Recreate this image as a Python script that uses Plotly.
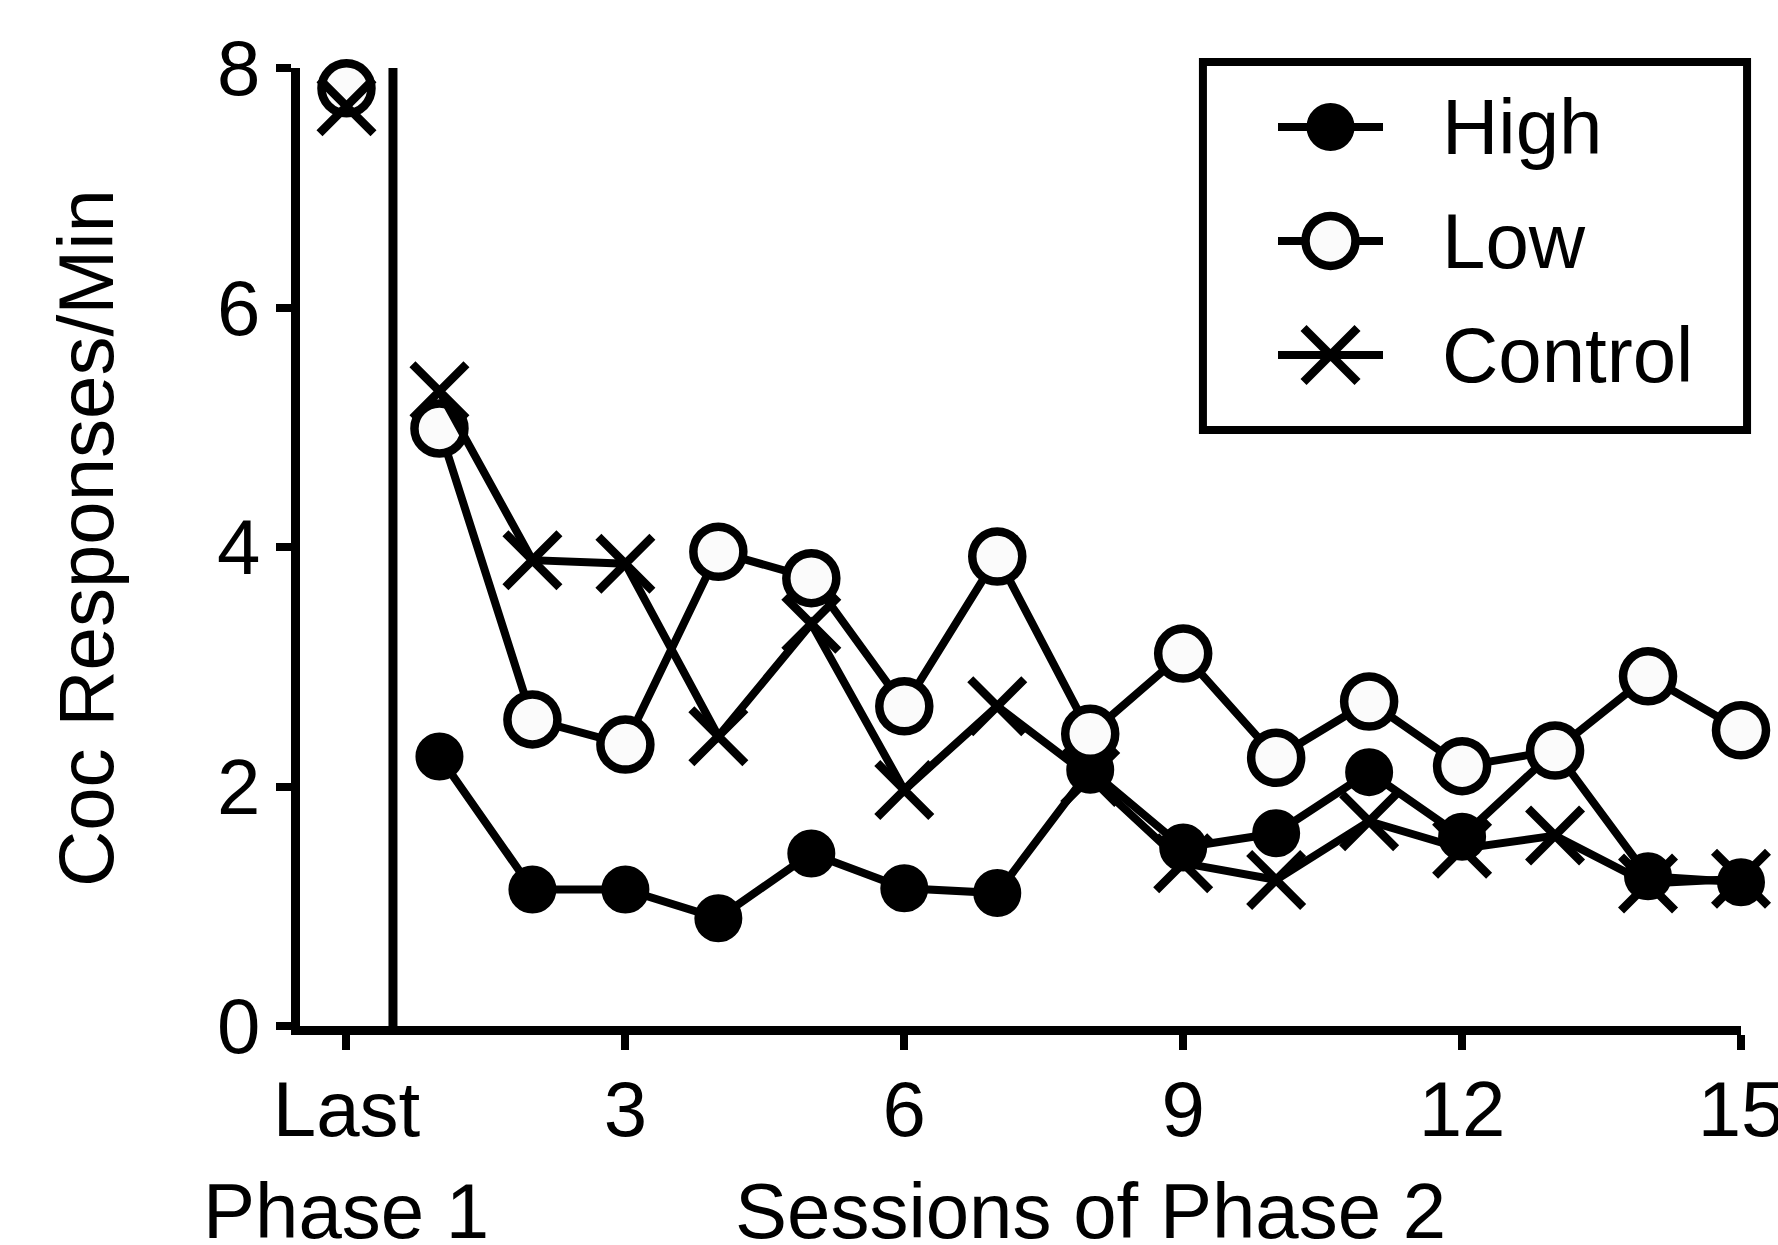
import plotly.graph_objects as go

# ---- data ----
sessions = list(range(1, 16))
high = [2.25, 1.14, 1.14, 0.90, 1.44, 1.15, 1.11, 2.14, 1.49, 1.61, 2.12, 1.58, 2.30, 1.25, 1.20]
low = [4.99, 2.56, 2.35, 3.96, 3.74, 2.67, 3.92, 2.44, 3.11, 2.24, 2.71, 2.17, 2.30, 2.92, 2.47]
control = [5.30, 3.89, 3.86, 2.42, 3.36, 1.97, 2.67, 2.08, 1.36, 1.22, 1.71, 1.48, 1.59, 1.19, 1.23]

last_x = [0]
high_last = [7.80]
low_last = [7.83]
control_last = [7.68]

tick_vals = [0, 3, 6, 9, 12, 15]
tick_text = ["Last", "3", "6", "9", "12", "15"]
y_ticks = [0, 2, 4, 6, 8]
legend_names = ["Control", "Low", "High"]

FONT = "Liberation Sans, Arial, sans-serif"
FS = 78
LW = 8

styles = {
    "High": dict(symbol="circle", size=46, color="black", line=dict(color="black", width=2)),
    "Low": dict(symbol="circle", size=50, color="#fbfbfb", line=dict(color="black", width=8.5)),
    "Control": dict(symbol="x-thin", size=54, color="black", line=dict(color="black", width=8.5)),
}

fig = go.Figure()

for name, ys, ylast in [("High", high, high_last), ("Low", low, low_last), ("Control", control, control_last)]:
    fig.add_trace(go.Scatter(x=sessions, y=ys, mode="lines+markers", name=name,
                             line=dict(color="black", width=LW), marker=styles[name],
                             cliponaxis=False, showlegend=False))
    fig.add_trace(go.Scatter(x=last_x, y=ylast, mode="markers", name=name,
                             marker=styles[name], cliponaxis=False, showlegend=False))

# custom legend drawn on a secondary pair of axes
for name in legend_names:
    fig.add_trace(go.Scatter(x=[0, 2], y=[name, name], mode="lines", xaxis="x2", yaxis="y2",
                             line=dict(color="black", width=LW), showlegend=False, cliponaxis=False))
    fig.add_trace(go.Scatter(x=[1], y=[name], mode="markers", xaxis="x2", yaxis="y2",
                             marker=styles[name], showlegend=False, cliponaxis=False))

annotations = []
for i, name in enumerate(legend_names):
    annotations.append(dict(x=0.791, xref="paper", y=i, yref="y2", text=name, showarrow=False,
                            xanchor="left", yanchor="middle", font=dict(family=FONT, size=FS, color="black")))

annotations += [
    dict(x=0, xref="x", y=-0.193, yref="paper", text="Phase 1", showarrow=False,
         xanchor="center", yanchor="middle", font=dict(family=FONT, size=FS, color="black")),
    dict(x=8, xref="x", y=-0.193, yref="paper", text="Sessions of Phase 2", showarrow=False,
         xanchor="center", yanchor="middle", font=dict(family=FONT, size=FS, color="black")),
    dict(x=-0.148, xref="paper", y=0.509, yref="paper", text="Coc Responses/Min", showarrow=False,
         textangle=-90, xanchor="center", yanchor="middle", font=dict(family=FONT, size=FS, color="black")),
]

shapes = [
    dict(type="line", xref="x", yref="y", x0=0.5, x1=0.5, y0=0, y1=8,
         line=dict(color="black", width=9)),
    dict(type="rect", xref="paper", yref="paper", x0=0.6266, x1=1.0042, y0=0.622, y1=1.0063,
         line=dict(color="black", width=8), fillcolor="rgba(0,0,0,0)"),
]

fig.update_layout(
    width=1778, height=1245,
    margin=dict(l=300, r=37, t=68, b=219, autoexpand=False),
    paper_bgcolor="white", plot_bgcolor="white",
    font=dict(family=FONT, size=FS, color="black"),
    xaxis=dict(range=[-0.5, 15], tickvals=tick_vals, ticktext=tick_text, showgrid=False, zeroline=False,
               showline=True, linecolor="black", linewidth=9, ticks="outside", ticklen=15, tickwidth=8,
               tickcolor="black", tickfont=dict(family=FONT, size=FS, color="black"),
               ticklabelstandoff=-8, ticklabeloverflow="allow", automargin=False),
    yaxis=dict(range=[0, 8], tickvals=y_ticks, showgrid=False, zeroline=False,
               showline=True, linecolor="black", linewidth=9, ticks="outside", ticklen=15, tickwidth=8,
               tickcolor="black", tickfont=dict(family=FONT, size=FS, color="black"),
               ticklabelstandoff=0, ticklabeloverflow="allow", automargin=False),
    xaxis2=dict(domain=[0.6787, 0.7516], range=[0, 2], visible=False, anchor="y2"),
    yaxis2=dict(domain=[0.641, 0.998], range=[-0.5, 2.5], type="category", categoryarray=legend_names,
                categoryorder="array", visible=False, anchor="x2"),
    annotations=annotations,
    shapes=shapes,
)

fig.write_html("out.html")
